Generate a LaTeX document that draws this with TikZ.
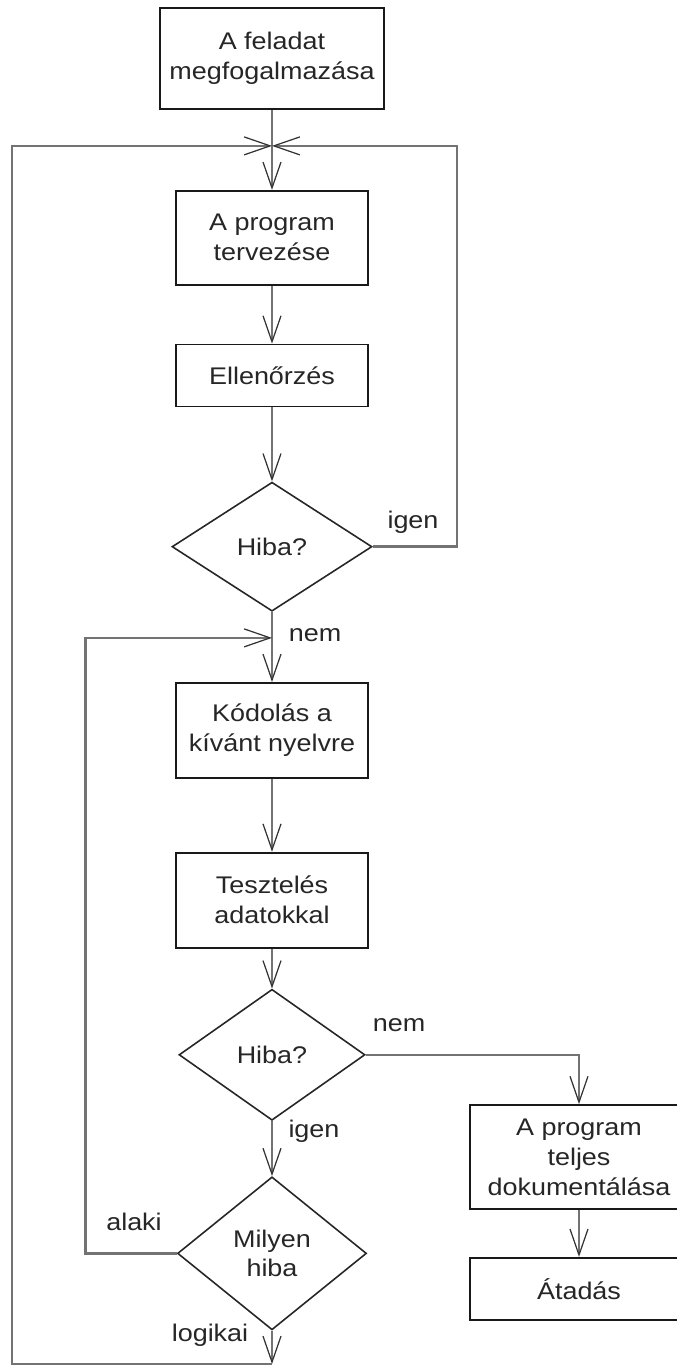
\documentclass[tikz,border=0pt]{standalone}
\usepackage{fontspec}
\setmainfont{Liberation Sans}[FakeStretch=1.12]
\usetikzlibrary{arrows.meta,positioning,calc,shapes.geometric}

\begin{document}
\begin{tikzpicture}[
      every node/.style={font=\fontsize{13.7}{17}\selectfont, text=black!85, align=center},
      stepbox/.style={draw=black!90, line width=1.0pt, rectangle, inner sep=2pt},
      decide/.style={draw=black!85, line width=0.9pt, diamond, inner sep=0pt},
      flow/.style={draw=black!55, line width=1.4pt,
        -{Straight Barb[length=0.52cm,width=0.36cm,line width=0.7pt,color=black!80]}},
      lbl/.style={inner sep=1pt}
    ]
  \useasboundingbox (0,0) rectangle (13.54,-27.3);

  % --- Hauptspalte ---
  \node (feladat) [stepbox, minimum width=4.48cm, minimum height=2.02cm] at (5.44,-1.17)
    {A feladat\\megfogalmazása};
  \node (tervezes) [stepbox, below=1.6cm of feladat, minimum width=3.84cm, minimum height=1.88cm]
    {A program\\tervezése};
  \node (ellenorzes) [stepbox, below=1.16cm of tervezes, minimum width=3.84cm, minimum height=1.24cm]
    {Ellenőrzés};
  \node (hiba1) [decide, below=1.48cm of ellenorzes, minimum width=4.0cm, minimum height=2.58cm]
    {Hiba?};
  \node (kodolas) [stepbox, below=1.4cm of hiba1, minimum width=3.84cm, minimum height=1.9cm]
    {Kódolás a\\kívánt nyelvre};
  \node (teszteles) [stepbox, below=1.46cm of kodolas, minimum width=3.84cm, minimum height=1.9cm]
    {Tesztelés\\adatokkal};
  \node (hiba2) [decide, below=0.8cm of teszteles, minimum width=3.72cm, minimum height=2.62cm]
    {Hiba?};
  \node (milyen) [decide, below=1.1cm of hiba2, minimum width=3.78cm, minimum height=3.06cm]
    {Milyen\\hiba};

  % --- rechte Spalte ---
  \node (dokument) [stepbox, minimum width=4.36cm, minimum height=2.08cm] at (11.58,-23.14)
    {A program\\teljes\\dokumentálása};
  \node (atadas) [stepbox, below=0.94cm of dokument, minimum width=4.36cm, minimum height=1.24cm]
    {Átadás};

  % Knotenpunkte der Rueckfuehrungen
  \coordinate (join1) at ($(feladat.south)!0.45!(tervezes.north)$);
  \coordinate (join2) at ($(hiba1.south)!0.37!(kodolas.north)$);
  \coordinate (bottom) at (milyen.south |- 0,-27.28);

  % --- Verbindungen ---
  \draw[flow] (feladat) -- (tervezes);
  \draw[flow] (tervezes) -- (ellenorzes);
  \draw[flow] (ellenorzes) -- (hiba1);
  \draw[flow] (hiba1.east) -- ++(1.68,0) |- (join1);
  \draw[flow] (hiba1) -- (kodolas);
  \draw[flow] (kodolas) -- (teszteles);
  \draw[flow] (teszteles) -- (hiba2);
  \draw[flow] (hiba2) -- (milyen);
  \draw[flow] (hiba2.east) -| (dokument.north);
  \draw[flow] (dokument) -- (atadas);
  \draw[flow] (milyen.west) -- ++(-1.82,0) |- (join2);
  \draw[flow] (milyen) -- (bottom);
  \draw[flow] (bottom) -- ++(-5.2,0) |- (join1);

  % Beschriftungen
  \node (igen1) [lbl] at (8.26,-10.44) {igen};
  \node (nem1) [lbl] at (6.30,-12.70) {nem};
  \node (nem2) [lbl] at (7.98,-20.50) {nem};
  \node (igen2) [lbl] at (6.28,-22.62) {igen};
  \node (alaki) [lbl] at (2.68,-24.44) {alaki};
  \node (logikai) [lbl] at (4.20,-26.70) {logikai};
\end{tikzpicture}
\end{document}
